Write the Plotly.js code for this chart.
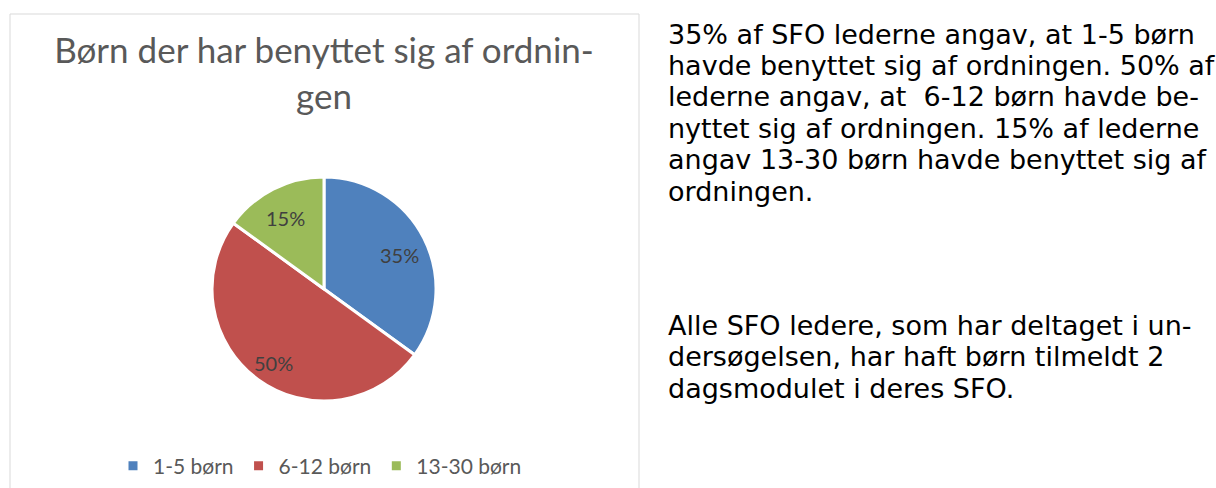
<!DOCTYPE html>
<html>
<head>
<meta charset="utf-8">
<script src="https://cdn.plot.ly/plotly-3.0.1.min.js"></script>
<style>html,body{margin:0;padding:0;background:#fff;}#chart{width:1216px;height:488px;}</style>
</head>
<body>
<div id="chart"></div>
<script>
var categories = ["1-5 børn", "6-12 børn", "13-30 børn"];
var shares = [35, 50, 15];
var sliceColors = ["#4f81bd", "#c0504d", "#9bbb59"];
var chartTitle = "Børn der har benyttet sig af ordnin-<br>gen";
var paragraph1 = [
  "35% af SFO lederne angav, at 1-5 børn",
  "havde benyttet sig af ordningen. 50% af",
  "lederne angav, at\u00a0 6-12 børn havde be-",
  "nyttet sig af ordningen. 15% af lederne",
  "angav 13-30 børn havde benyttet sig af",
  "ordningen."
];
var paragraph2 = [
  "Alle SFO ledere, som har deltaget i un-",
  "dersøgelsen, har haft børn tilmeldt 2",
  "dagsmodulet i deres SFO."
];

var W = 1216, H = 488;
function px(x){ return x / W; }
function py(y){ return 1 - y / H; }

var chartFont = "Lato, 'Open Sans', sans-serif";
var bodyFont = "'DejaVu Sans', Verdana, sans-serif";
var cx = 324, cy = 289, r = 112;
var labelRadius = 0.76;
var labelDy = 5;

var trace = {
  type: "pie",
  labels: categories,
  values: shares,
  sort: false,
  direction: "clockwise",
  rotation: 0,
  marker: { colors: sliceColors, line: { color: "#ffffff", width: 3 } },
  textinfo: "none",
  hoverinfo: "label+percent",
  domain: { x: [px(cx - r), px(cx + r)], y: [py(cy + r), py(cy - r)] }
};

var annotations = [];

// slice percentage labels, placed along each slice's mid-angle (derived from the data)
var total = shares.reduce(function (a, b) { return a + b; }, 0);
var cum = 0;
shares.forEach(function (v) {
  var mid = (cum + v / 2) / total * 2 * Math.PI;
  cum += v;
  annotations.push({
    xref: "paper", yref: "paper",
    x: px(cx + labelRadius * r * Math.sin(mid)),
    y: py(cy + labelDy - labelRadius * r * Math.cos(mid)),
    xanchor: "center", yanchor: "middle", showarrow: false,
    text: Math.round(v / total * 100) + "%",
    font: { family: chartFont, size: 20, color: "#404040" }
  });
});

var lineStep = 31.5;
function addParagraph(lines, firstCenter) {
  lines.forEach(function (t, i) {
    annotations.push({
      xref: "paper", yref: "paper",
      x: px(666), y: py(firstCenter + i * lineStep),
      xanchor: "left", yanchor: "middle", align: "left",
      showarrow: false, text: t,
      font: { family: bodyFont, size: 27, color: "#000000" }
    });
  });
}
addParagraph(paragraph1, 34);
addParagraph(paragraph2, 325);

var layout = {
  width: W, height: H,
  margin: { l: 0, r: 0, t: 0, b: 0 },
  paper_bgcolor: "#ffffff",
  plot_bgcolor: "#ffffff",
  font: { family: chartFont, color: "#595959" },
  title: {
    text: chartTitle,
    font: { family: chartFont, size: 35, color: "#595959" },
    x: px(cx), xanchor: "center", xref: "paper",
    y: py(63), yanchor: "top", yref: "container"
  },
  showlegend: true,
  legend: {
    orientation: "h",
    x: px(cx - 4), xanchor: "center",
    y: py(466), yanchor: "middle",
    font: { family: chartFont, size: 21, color: "#595959" },
    bgcolor: "rgba(0,0,0,0)"
  },
  shapes: [
    { type: "rect", xref: "paper", yref: "paper",
      x0: px(10), x1: px(639), y0: py(520), y1: py(14),
      line: { color: "#d9d9d9", width: 1 }, fillcolor: "rgba(0,0,0,0)", layer: "below" }
  ],
  annotations: annotations
};

Plotly.newPlot("chart", [trace], layout, { displayModeBar: false, staticPlot: true });
</script>
</body>
</html>
